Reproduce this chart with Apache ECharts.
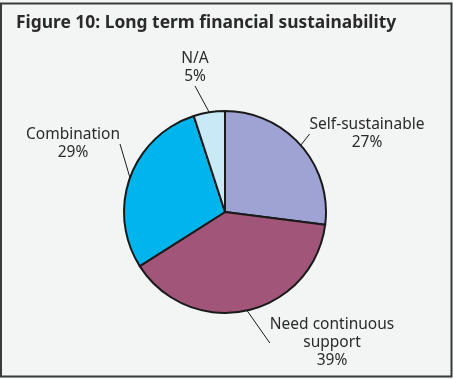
<!DOCTYPE html>
<html><head><meta charset="utf-8">
<script src="https://cdn.jsdelivr.net/npm/echarts@6/dist/echarts.min.js"></script>
<style>html,body{margin:0;padding:0;background:#f3f5f4;}#c{width:453px;height:379px;}</style>
</head><body><div id="c"></div>
<script>
const categories = ['Self-sustainable', 'Need continuous\nsupport', 'Combination', 'N/A'];
const values = [27, 39, 29, 5];
const colors = ['#9ea3d3', '#a15578', '#00b5eb', '#c9e9f7'];
const labelPos = [[367, 134], [332, 343], [73, 144], [195, 68]];
const chart = echarts.init(document.getElementById('c'));
chart.setOption({
  backgroundColor: '#f3f5f4',
  animation: false,
  title: {
    text: 'Figure 10: Long term financial sustainability',
    left: 11, top: 10,
    textStyle: {fontFamily: 'Noto Sans', fontWeight: 'bold', fontSize: 17.4, color: '#2a2a2a'}
  },
  graphic: [{type: 'rect', shape: {x: 1, y: 3.5, width: 450.5, height: 373}, style: {fill: 'none', stroke: '#3a3a3a', lineWidth: 2}, silent: true}],
  series: [{
    type: 'pie',
    center: [225, 212],
    radius: 101,
    startAngle: 90,
    clockwise: true,
    data: categories.map((c, i) => ({name: c, value: values[i], itemStyle: {color: colors[i]}})),
    itemStyle: {borderColor: '#1a1a1a', borderWidth: 2},
    label: {
      show: true,
      formatter: p => p.name + '\n' + p.value + '%',
      fontFamily: 'Noto Sans', fontSize: 15.5, lineHeight: 18, color: '#2a2a2a', align: 'center'
    },
    labelLine: {show: true, length: 12, length2: 0, lineStyle: {color: '#1a1a1a', width: 1}},
    labelLayout: p => ({x: labelPos[p.dataIndex][0], y: labelPos[p.dataIndex][1], align: 'center', verticalAlign: 'middle'})
  }]
});
</script></body></html>
